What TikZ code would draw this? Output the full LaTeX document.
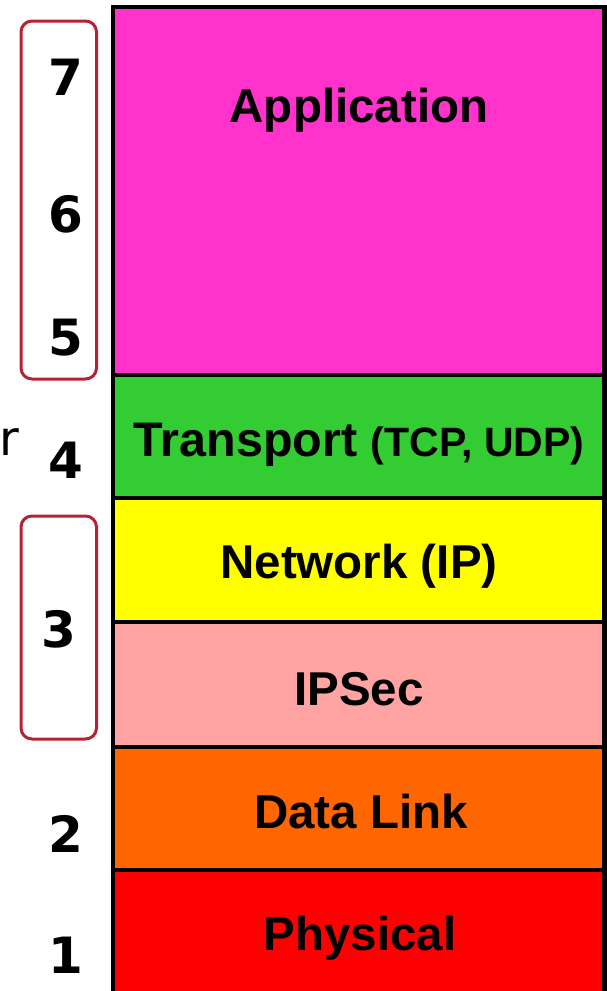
\documentclass[tikz,border=0pt]{standalone}
\usepackage{fontspec}
\setmainfont{Liberation Sans}
\newfontfamily\numfont{DejaVu Sans}
\definecolor{appcol}{RGB}{255,51,204}
\definecolor{tracol}{RGB}{51,204,51}
\definecolor{netcol}{RGB}{255,255,0}
\definecolor{ipscol}{RGB}{255,163,163}
\definecolor{dlkcol}{RGB}{255,102,0}
\definecolor{phycol}{RGB}{255,0,0}
\definecolor{brkcol}{RGB}{181,34,52}
\tikzset{
  layerbox/.style={draw=black, line width=4.5pt},
  layertext/.style={anchor=base, inner sep=0pt, font=\fontsize{47.5}{50}\selectfont\bfseries},
  levelnum/.style={anchor=base, inner sep=0pt, font=\fontsize{50}{54}\selectfont\numfont\bfseries},
  groupbrace/.style={draw=brkcol, line width=3pt, rounded corners=11pt}
}
\begin{document}
\begin{tikzpicture}[x=1pt, y=-1pt]
\useasboundingbox (0,0) rectangle (607,991);
\clip (0,0) rectangle (607,991);

% protocol stack, top to bottom
\path[layerbox, fill=appcol] (113,7)   rectangle (604.5,375);
\path[layerbox, fill=tracol] (113,375) rectangle (604.5,498);
\path[layerbox, fill=netcol] (113,498) rectangle (604.5,622);
\path[layerbox, fill=ipscol] (113,622) rectangle (604.5,747);
\path[layerbox, fill=dlkcol] (113,747) rectangle (604.5,870);
\path[layerbox, fill=phycol] (113,870) rectangle (604.5,1010);

\node[layertext] (app) at (359,122) {Application};
\node[layertext] (tra) at (359,456) {\fontsize{48.5}{50}\selectfont Transport {\fontsize{41}{44}\selectfont(TCP, UDP)}};
\node[layertext] (net) at (359,578) {Network (IP)};
\node[layertext] (ips) at (359,705) {IPSec};
\node[layertext] (dlk) at (361,828) {Data Link};
\node[layertext] (phy) at (360,950) {Physical};

% grouping outlines
\path[groupbrace] (21,21)  rectangle (96.5,379);
\path[groupbrace] (21,516) rectangle (96.5,739);

% OSI layer numbers
\node[levelnum] (n7) at (66,95)  {7};
\node[levelnum] (n6) at (66,232) {6};
\node[levelnum] (n5) at (66,355) {5};
\node[levelnum] (n4) at (66,478) {4};
\node[levelnum] (n3) at (59,647) {3};
\node[levelnum] (n2) at (66,852) {2};
\node[levelnum] (n1) at (66,973) {1};

% trailing letter of a word running off the left edge
\node[anchor=base west, inner sep=0pt, font=\fontsize{48}{52}\selectfont\numfont] (cut) at (-1,455) {r};
\end{tikzpicture}
\end{document}
